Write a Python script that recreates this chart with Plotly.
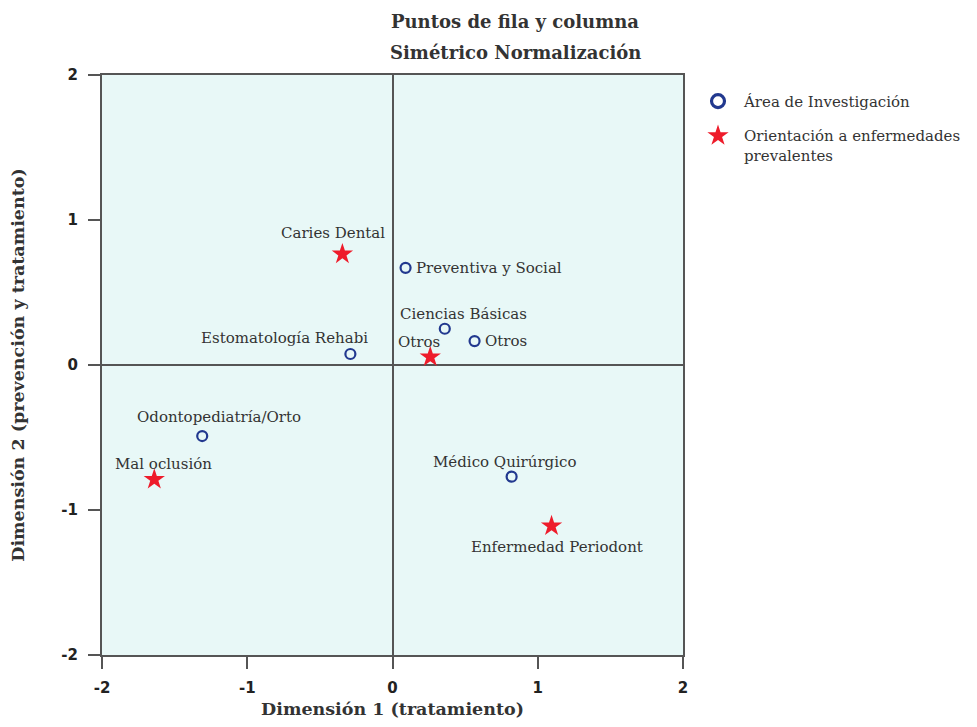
import plotly.graph_objects as go

# Data
area_names = ["Preventiva y Social", "Ciencias Básicas", "Otros", "Estomatología Rehabi",
              "Odontopediatría/Orto", "Médico Quirúrgico"]
area_x = [0.09, 0.36, 0.565, -0.29, -1.31, 0.82]
area_y = [0.67, 0.25, 0.165, 0.076, -0.49, -0.77]

orient_names = ["Caries Dental", "Otros", "Mal oclusión", "Enfermedad Periodont"]
orient_x = [-0.345, 0.26, -1.64, 1.095]
orient_y = [0.765, 0.055, -0.79, -1.11]

tick_vals = [-2, -1, 0, 1, 2]
tick_text = ["<b>-2</b>", "<b>-1</b>", "<b>0</b>", "<b>1</b>", "<b>2</b>"]

SERIF = "DejaVu Serif"
BLUE = "#22398F"
RED = "#EE1C2B"
TXT = "#333333"
LINE = "#555555"

fig = go.Figure()
fig.add_trace(go.Scatter(
    x=area_x, y=area_y, mode="markers", showlegend=False,
    marker=dict(symbol="circle-open", size=10, color=BLUE, line=dict(width=2.2, color=BLUE)),
))
fig.add_trace(go.Scatter(
    x=orient_x, y=orient_y, mode="markers", showlegend=False,
    marker=dict(symbol="star", size=16, color=RED, line=dict(width=0)),
))
# legend-only entries with bigger symbols
fig.add_trace(go.Scatter(
    x=[None], y=[None], mode="markers", name="Área de Investigación", legendgroup="a",
    marker=dict(symbol="circle-open", size=13, color=BLUE, line=dict(width=3.2, color=BLUE)),
))
fig.add_trace(go.Scatter(
    x=[None], y=[None], mode="markers", name="Orientación a enfermedades<br>prevalentes",
    legendgroup="b",
    marker=dict(symbol="star", size=22, color=RED, line=dict(width=0)),
))

# label offsets (pixels): (xanchor, xshift, yshift)
area_lbl = [("left", 8, 0), ("center", 19, 15), ("left", 8, 0), ("center", -66, 16),
            ("center", 17, 19), ("center", -7, 15)]
orient_lbl = [("center", -9, 21), ("center", -11, 15), ("center", 9, 16), ("center", 5, -21)]

ann = []
for n, x, y, (xa, xs, ys) in zip(area_names, area_x, area_y, area_lbl):
    ann.append(dict(x=x, y=y, text=n, showarrow=False, xanchor=xa, yanchor="middle",
                    xshift=xs, yshift=ys, font=dict(family=SERIF, size=15, color=TXT)))
for n, x, y, (xa, xs, ys) in zip(orient_names, orient_x, orient_y, orient_lbl):
    ann.append(dict(x=x, y=y, text=n, showarrow=False, xanchor=xa, yanchor="middle",
                    xshift=xs, yshift=ys, font=dict(family=SERIF, size=15, color=TXT)))
# title lines
ann.append(dict(xref="paper", yref="paper", x=0.711, y=1, yshift=54, text="<b>Puntos de fila y columna</b>",
                showarrow=False, xanchor="center", yanchor="middle",
                font=dict(family=SERIF, size=18, color=TXT)))
ann.append(dict(xref="paper", yref="paper", x=0.711, y=1, yshift=23, text="<b>Simétrico Normalización</b>",
                showarrow=False, xanchor="center", yanchor="middle",
                font=dict(family=SERIF, size=18, color=TXT)))

fig.update_layout(
    width=961, height=711,
    margin=dict(l=94, r=286, t=67, b=64, autoexpand=False),
    paper_bgcolor="white",
    plot_bgcolor="#E8F8F7",
    showlegend=True,
    legend=dict(x=1.0155, y=0.983, xanchor="left", yanchor="top", valign="top",
                font=dict(family=SERIF, size=15, color=TXT),
                bgcolor="rgba(0,0,0,0)", itemwidth=42, tracegroupgap=12),
    annotations=ann,
    xaxis=dict(range=[-2, 2], tickvals=tick_vals, ticktext=tick_text, automargin=False,
               showgrid=False, zeroline=True, zerolinecolor=LINE, zerolinewidth=1.5,
               showline=True, linecolor=LINE, linewidth=2, mirror=True,
               ticks="outside", ticklen=12, tickcolor=LINE, tickwidth=1.5,
               ticklabelstandoff=6,
               tickfont=dict(family="DejaVu Sans", size=15, color="#222222"),
               title=dict(text="<b>Dimensión 1 (tratamiento)</b>", standoff=21,
                          font=dict(family=SERIF, size=17.5, color=TXT))),
    yaxis=dict(range=[-2, 2], tickvals=tick_vals, ticktext=tick_text, automargin=False,
               showgrid=False, zeroline=True, zerolinecolor=LINE, zerolinewidth=1.5,
               showline=True, linecolor=LINE, linewidth=2, mirror=True,
               ticks="outside", ticklen=12, tickcolor=LINE, tickwidth=1.5,
               ticklabelstandoff=7,
               tickfont=dict(family="DejaVu Sans", size=15, color="#222222"),
               title=dict(text="<b>Dimensión 2 (prevención y tratamiento)</b>", standoff=32,
                          font=dict(family=SERIF, size=17.5, color=TXT))),
)

fig.write_html("out.html")
